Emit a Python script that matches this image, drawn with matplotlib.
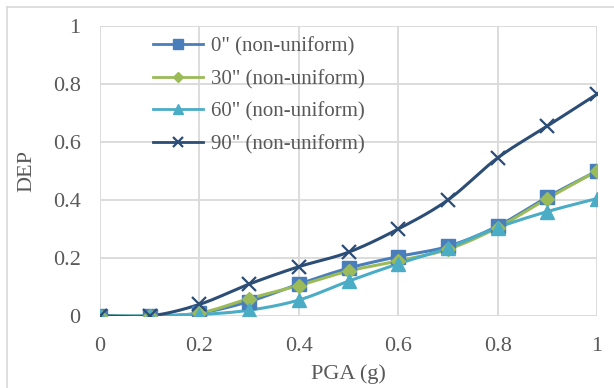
import numpy as np
import matplotlib
matplotlib.use("Agg")
import matplotlib.pyplot as plt
from matplotlib.lines import Line2D

pga = [0, 0.1, 0.2, 0.3, 0.4, 0.5, 0.6, 0.7, 0.8, 0.9, 1.0]
dep_0 = [0, 0, 0.01, 0.05, 0.11, 0.165, 0.205, 0.24, 0.31, 0.41, 0.50]
dep_30 = [0, 0, 0.01, 0.06, 0.105, 0.155, 0.19, 0.23, 0.305, 0.405, 0.50]
dep_60 = [0, 0, 0.005, 0.02, 0.055, 0.12, 0.18, 0.235, 0.305, 0.36, 0.405]
dep_90 = [0, 0, 0.04, 0.11, 0.17, 0.22, 0.30, 0.40, 0.545, 0.655, 0.765]
labels = ['0" (non-uniform)', '30" (non-uniform)', '60" (non-uniform)', '90" (non-uniform)']
xticks = [0, 0.2, 0.4, 0.6, 0.8, 1]
yticks = [0, 0.2, 0.4, 0.6, 0.8, 1]

plt.rcParams['font.family'] = ['Liberation Serif', 'DejaVu Serif']


def smooth(x, y, n=20):
    # Catmull-Rom curve through points (Excel-like smoothed line rendering)
    x = np.asarray(x, float); y = np.asarray(y, float)
    px = np.concatenate([[2 * x[0] - x[1]], x, [2 * x[-1] - x[-2]]])
    py = np.concatenate([[2 * y[0] - y[1]], y, [2 * y[-1] - y[-2]]])
    xs, ys = [], []
    t = np.linspace(0, 1, n, endpoint=False)
    for i in range(1, len(px) - 2):
        for arr, out in ((px, xs), (py, ys)):
            p0, p1, p2, p3 = arr[i - 1], arr[i], arr[i + 1], arr[i + 2]
            out.extend(0.5 * ((2 * p1) + (-p0 + p2) * t
                              + (2 * p0 - 5 * p1 + 4 * p2 - p3) * t ** 2
                              + (-p0 + 3 * p1 - 3 * p2 + p3) * t ** 3))
    xs.append(x[-1]); ys.append(y[-1])
    return np.array(xs), np.array(ys)


W, H = 614, 388
fig = plt.figure(figsize=(W / 100, H / 100), dpi=100)
ax = fig.add_axes([100 / W, 1 - 316 / H, 497 / W, 290 / H])

series = [dep_0, dep_30, dep_60, dep_90]
colors = ['#4A7EBB', '#9BBB59', '#4BACC6', '#2C4D75']
markers = ['s', 'D', '^', 'x']
msizes = [9.5, 7.5, 9.5, 9.5]
lsizes = [7, 5.5, 7, 7]
handles = []
for s, c, m, ms, ls_, lab in zip(series, colors, markers, msizes, lsizes, labels):
    sx, sy = smooth(pga, s)
    ax.plot(sx, sy, color=c, lw=2.2, zorder=3, solid_capstyle='round')
    if m == 'x':
        ax.plot(pga, s, ls='none', marker=m, ms=ms, mew=1.6, color=c, zorder=4)
    else:
        ax.plot(pga, s, ls='none', marker=m, ms=ms, color=c, mec=c, zorder=4)
    handles.append(Line2D([0], [0], color=c, lw=2, marker=m,
                          ms=ls_, mew=1.6 if m == 'x' else 1, label=lab))

ax.set_xlim(0, 1)
ax.set_ylim(0, 1)
ax.set_xticks(xticks)
ax.set_yticks(yticks)
ax.set_xticklabels([f"{v:g}" for v in xticks])
ax.set_yticklabels([f"{v:g}" for v in yticks])
ax.tick_params(length=0, labelsize=16, colors='#595959')
ax.tick_params(axis='x', pad=15)
ax.tick_params(axis='y', pad=14)
ax.grid(True, color='#D9D9D9', lw=1.3)
ax.set_axisbelow(True)
for sp in ax.spines.values():
    sp.set_visible(False)
ax.set_xlabel('PGA (g)', fontsize=16, color='#595959', labelpad=0)
ax.set_ylabel('DEP', fontsize=16, color='#595959', labelpad=6)
ax.xaxis.set_label_coords(0.5, -(374 - 316) / 290, transform=ax.transAxes)
ax.xaxis.label.set_va('center')
ax.yaxis.set_label_coords(-(100 - 27) / 497, 0.5, transform=ax.transAxes)
ax.yaxis.label.set_va('center')

leg = ax.legend(handles=handles, loc='upper left',
                bbox_to_anchor=((153 - 100) / 497, 1 - (37 - 26) / 290),
                frameon=False, fontsize=15, handlelength=2.4, labelspacing=0.62,
                handletextpad=0.4, borderaxespad=0, borderpad=0)
for t in leg.get_texts():
    t.set_color('#595959')

# chart-area border (top and left visible)
fig.add_artist(Line2D([7 / W, 7 / W], [0, 1 - 7 / H], transform=fig.transFigure,
                      color='#D9D9D9', lw=1.2))
fig.add_artist(Line2D([7 / W, 1], [1 - 7 / H, 1 - 7 / H], transform=fig.transFigure,
                      color='#D9D9D9', lw=1.2))
fig.savefig('out.png', dpi=100)
